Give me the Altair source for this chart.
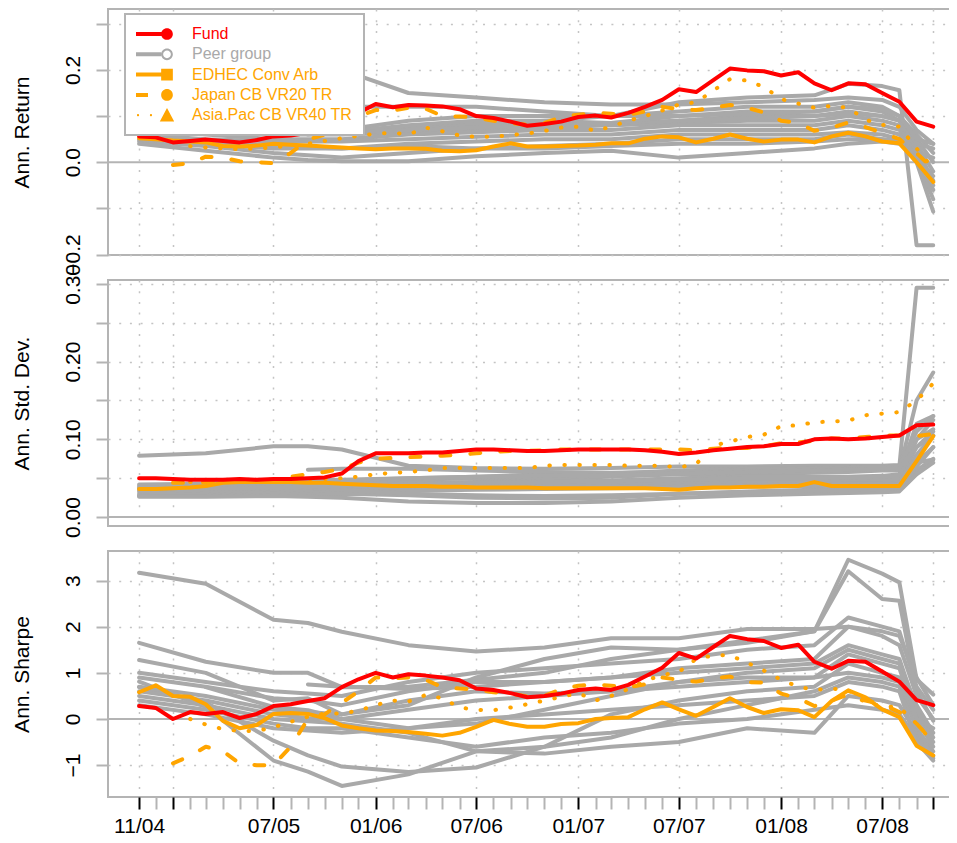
import json
import altair as alt
import pandas as pd

# ---------------- data ----------------
MONTHS = ["2004-11", "2004-12",
          "2005-01", "2005-02", "2005-03", "2005-04", "2005-05", "2005-06",
          "2005-07", "2005-08", "2005-09", "2005-10", "2005-11", "2005-12",
          "2006-01", "2006-02", "2006-03", "2006-04", "2006-05", "2006-06",
          "2006-07", "2006-08", "2006-09", "2006-10", "2006-11", "2006-12",
          "2007-01", "2007-02", "2007-03", "2007-04", "2007-05", "2007-06",
          "2007-07", "2007-08", "2007-09", "2007-10", "2007-11", "2007-12",
          "2008-01", "2008-02", "2008-03", "2008-04", "2008-05", "2008-06",
          "2008-07", "2008-08", "2008-09", "2008-10"]

SERIES = ["Fund", "Peer group", "EDHEC Conv Arb", "Japan CB VR20 TR", "Asia.Pac CB VR40 TR"]
SERIES_COLORS = ["#ff0000", "#a9a9a9", "#ffa500", "#ffa500", "#ffa500"]

MAJOR_TICKS = ["11/04", "01/05", "07/05", "01/06", "07/06", "01/07", "07/07", "01/08", "07/08", "10/08"]
TICK_LABELS = ["11/04", "07/05", "01/06", "07/06", "01/07", "07/07", "01/08", "07/08"]

# --- Annualised return ---
FUND_RET = [0.056, 0.054, 0.043, 0.046, 0.049, 0.046, 0.043, 0.048, 0.056, 0.058, 0.064, 0.072,
            0.095, 0.107, 0.126, 0.119, 0.124, 0.123, 0.121, 0.115, 0.100, 0.096, 0.088, 0.079,
            0.083, 0.088, 0.098, 0.101, 0.097, 0.107, 0.120, 0.135, 0.158, 0.152, 0.178, 0.203,
            0.199, 0.197, 0.188, 0.195, 0.171, 0.156, 0.171, 0.169, 0.150, 0.131, 0.088, 0.077]
EDHEC_RET = [0.052, 0.050, 0.047, 0.045, 0.043, 0.035, 0.034, 0.036, 0.040, 0.038, 0.036, 0.034,
             0.032, 0.030, 0.028, 0.030, 0.030, 0.029, 0.025, 0.024, 0.026, 0.034, 0.041, 0.034,
             0.034, 0.035, 0.036, 0.038, 0.041, 0.041, 0.051, 0.056, 0.054, 0.043, 0.051, 0.060,
             0.051, 0.045, 0.049, 0.049, 0.043, 0.056, 0.064, 0.056, 0.045, 0.041, 0.000, -0.043]
JAPAN_RET = [None, None, -0.006, -0.002, 0.012, 0.010, 0.002, 0.000, -0.002, 0.020, 0.049, 0.060,
             0.080, 0.100, 0.113, 0.112, 0.118, 0.116, 0.100, 0.099, 0.097, 0.090, 0.085, 0.081,
             0.085, 0.098, 0.103, 0.107, 0.105, 0.103, 0.110, 0.120, 0.115, 0.113, 0.118, 0.124,
             0.118, 0.108, 0.090, 0.085, 0.068, 0.075, 0.086, 0.076, 0.064, 0.050, 0.020, -0.015]
ASIA_RET = [None, None, None, 0.035, 0.032, 0.030, 0.028, 0.030, 0.032, 0.036, 0.040, 0.046,
            0.052, 0.057, 0.062, 0.064, 0.060, 0.075, 0.067, 0.058, 0.055, 0.055, 0.059, 0.062,
            0.068, 0.075, 0.077, 0.068, 0.077, 0.090, 0.100, 0.112, 0.125, 0.130, 0.155, 0.180,
            0.177, 0.163, 0.137, 0.127, 0.118, 0.122, 0.118, 0.092, 0.081, 0.077, 0.030, -0.015]

# --- Annualised standard deviation ---
FUND_SD = [0.050, 0.050, 0.049, 0.048, 0.048, 0.048, 0.049, 0.048, 0.049, 0.049, 0.050, 0.051,
           0.056, 0.072, 0.082, 0.082, 0.082, 0.083, 0.083, 0.085, 0.087, 0.087, 0.086, 0.085,
           0.085, 0.086, 0.087, 0.087, 0.087, 0.087, 0.086, 0.084, 0.081, 0.083, 0.086, 0.088,
           0.090, 0.091, 0.094, 0.094, 0.100, 0.101, 0.100, 0.101, 0.103, 0.105, 0.118, 0.119]
EDHEC_SD = [0.036, 0.036, 0.037, 0.038, 0.040, 0.044, 0.045, 0.045, 0.045, 0.045, 0.044, 0.044,
            0.043, 0.042, 0.041, 0.040, 0.040, 0.040, 0.039, 0.039, 0.038, 0.038, 0.038, 0.038,
            0.037, 0.037, 0.037, 0.037, 0.037, 0.037, 0.037, 0.036, 0.035, 0.037, 0.038, 0.038,
            0.039, 0.039, 0.040, 0.040, 0.045, 0.040, 0.040, 0.040, 0.040, 0.040, 0.072, 0.104]
JAPAN_SD = [None, None, 0.044, 0.044, 0.045, 0.046, 0.046, 0.047, 0.048, 0.052, 0.055, 0.058,
            0.062, 0.070, 0.075, 0.076, 0.077, 0.078, 0.079, 0.080, 0.082, 0.084, 0.085, 0.085,
            0.086, 0.087, 0.087, 0.087, 0.087, 0.087, 0.087, 0.087, 0.087, 0.086, 0.088, 0.089,
            0.089, 0.091, 0.095, 0.096, 0.098, 0.101, 0.101, 0.103, 0.105, 0.105, 0.104, 0.107]
ASIA_SD = [None, None, None, 0.045, 0.045, 0.046, 0.046, 0.047, 0.047, 0.048, 0.049, 0.049,
           0.050, 0.052, 0.055, 0.057, 0.058, 0.060, 0.063, 0.063, 0.063, 0.063, 0.063, 0.063,
           0.066, 0.067, 0.067, 0.067, 0.067, 0.066, 0.066, 0.066, 0.064, 0.068, 0.092, 0.097,
           0.103, 0.106, 0.117, 0.118, 0.122, 0.123, 0.124, 0.131, 0.133, 0.135, 0.150, 0.172]

# --- Annualised Sharpe ratio ---
FUND_SR = [0.28, 0.24, 0.00, 0.15, 0.11, 0.15, 0.02, 0.11, 0.28, 0.32, 0.39, 0.45,
           0.69, 0.86, 1.00, 0.90, 0.97, 0.94, 0.90, 0.84, 0.66, 0.63, 0.56, 0.47,
           0.50, 0.55, 0.63, 0.66, 0.63, 0.74, 0.92, 1.11, 1.43, 1.31, 1.56, 1.80,
           1.73, 1.69, 1.54, 1.61, 1.24, 1.09, 1.26, 1.24, 1.03, 0.81, 0.41, 0.30]
EDHEC_SR = [0.58, 0.73, 0.50, 0.48, 0.32, -0.04, -0.20, -0.13, 0.11, 0.13, 0.11, 0.02,
            -0.14, -0.20, -0.25, -0.26, -0.28, -0.32, -0.36, -0.30, -0.17, -0.02, -0.11, -0.17,
            -0.17, -0.11, -0.09, 0.00, 0.02, 0.04, 0.21, 0.36, 0.21, 0.07, 0.26, 0.45,
            0.26, 0.13, 0.21, 0.19, 0.04, 0.39, 0.62, 0.47, 0.21, 0.04, -0.58, -0.79]
JAPAN_SR = [None, None, -0.96, -0.80, -0.60, -0.70, -0.96, -1.00, -1.00, -0.60, 0.00, 0.10,
            0.35, 0.60, 0.90, 0.88, 0.90, 0.85, 0.69, 0.66, 0.64, 0.58, 0.55, 0.49,
            0.50, 0.65, 0.72, 0.75, 0.72, 0.69, 0.75, 0.90, 0.85, 0.81, 0.88, 0.92,
            0.80, 0.79, 0.55, 0.45, 0.28, 0.40, 0.53, 0.40, 0.32, 0.15, -0.10, -0.50]
ASIA_SR = [None, None, None, 0.00, -0.12, -0.22, -0.26, -0.26, -0.18, -0.06, 0.05, 0.12,
           0.12, 0.18, 0.30, 0.40, 0.38, 0.52, 0.45, 0.25, 0.20, 0.19, 0.25, 0.32,
           0.40, 0.48, 0.56, 0.40, 0.50, 0.65, 0.83, 0.95, 1.02, 1.30, 1.38, 1.38,
           1.22, 1.05, 0.85, 0.70, 0.63, 0.66, 0.62, 0.35, 0.28, 0.25, -0.10, -0.51]

# peer group funds, read at these month positions (index into MONTHS)
PEER_MONTH_IDX = [0, 4, 8, 10, 12, 16, 20, 24, 28, 32, 36, 40, 42, 44, 45, 46, 47]

PEERS_RET = {
    "Peer 1": [0.27, 0.25, 0.22, 0.21, 0.20, 0.15, 0.14, 0.13, 0.125, 0.125, 0.13, 0.135, 0.14, 0.135, 0.12, 0.07, 0.04],
    "Peer 2": [0.12, 0.10, 0.09, 0.08, 0.07, 0.07, 0.08, 0.09, 0.10, 0.13, 0.14, 0.145, 0.17, 0.165, 0.156, -0.18, -0.18],
    "Peer 3": [0.20, 0.17, 0.14, 0.13, 0.12, 0.12, 0.12, 0.11, 0.10, 0.11, 0.12, 0.12, 0.13, 0.12, 0.10, 0.06, 0.02],
    "Peer 4": [0.16, 0.12, 0.09, 0.08, 0.07, 0.09, 0.10, 0.10, 0.10, 0.10, 0.11, 0.11, 0.12, 0.11, 0.09, 0.05, 0.00],
    "Peer 5": [0.10, 0.08, 0.07, 0.068, 0.065, 0.075, 0.085, 0.085, 0.08, 0.09, 0.10, 0.10, 0.11, 0.10, 0.09, 0.04, -0.02],
    "Peer 6": [0.08, 0.07, 0.06, 0.06, 0.06, 0.065, 0.07, 0.075, 0.08, 0.085, 0.09, 0.09, 0.10, 0.09, 0.08, 0.03, -0.04],
    "Peer 7": [0.07, 0.06, 0.05, 0.05, 0.05, 0.06, 0.065, 0.07, 0.07, 0.08, 0.08, 0.08, 0.09, 0.08, 0.07, 0.02, -0.06],
    "Peer 8": [0.06, 0.05, 0.045, 0.045, 0.045, 0.05, 0.055, 0.06, 0.06, 0.07, 0.07, 0.07, 0.08, 0.07, 0.06, 0.01, -0.08],
    "Peer 9": [0.05, 0.045, 0.035, 0.032, 0.03, 0.04, 0.045, 0.05, 0.05, 0.06, 0.06, 0.06, 0.065, 0.06, 0.05, 0.00, -0.107],
    "Peer 10": [0.045, 0.035, 0.02, 0.015, 0.01, 0.02, 0.03, 0.035, 0.04, 0.05, 0.05, 0.05, 0.06, 0.05, 0.045, 0.01, -0.03],
    "Peer 11": [0.04, 0.025, 0.01, 0.005, 0.002, 0.002, 0.013, 0.02, 0.025, 0.01, 0.02, 0.03, 0.04, 0.045, 0.04, 0.02, 0.01],
    "Peer 12": [0.05, 0.04, 0.03, 0.03, 0.03, 0.035, 0.03, 0.03, 0.035, 0.04, 0.04, 0.045, 0.05, 0.05, 0.045, 0.00, -0.05],
    "Peer 13": [None, None, None, 0.06, 0.065, 0.08, 0.09, 0.09, 0.085, 0.09, 0.095, 0.10, 0.105, 0.10, 0.09, 0.04, 0.03],
    "Peer 14": [None, 0.09, 0.075, 0.07, 0.065, 0.07, 0.075, 0.08, 0.085, 0.10, 0.105, 0.11, 0.12, 0.115, 0.10, 0.05, 0.04],
}
PEERS_SD = {
    "Peer 1": [0.079, 0.082, 0.091, 0.091, 0.087, 0.066, 0.063, 0.062, 0.063, 0.065, 0.065, 0.066, 0.066, 0.066, 0.067, 0.070, 0.074],
    "Peer 2": [0.042, 0.043, 0.045, 0.046, 0.047, 0.050, 0.052, 0.055, 0.056, 0.060, 0.062, 0.062, 0.063, 0.064, 0.065, 0.295, 0.295],
    "Peer 3": [0.040, 0.041, 0.043, 0.044, 0.045, 0.048, 0.050, 0.050, 0.052, 0.055, 0.055, 0.057, 0.058, 0.060, 0.060, 0.150, 0.186],
    "Peer 4": [0.037, 0.038, 0.040, 0.041, 0.042, 0.044, 0.045, 0.046, 0.047, 0.050, 0.052, 0.052, 0.052, 0.053, 0.055, 0.120, 0.130],
    "Peer 5": [0.035, 0.036, 0.037, 0.038, 0.039, 0.041, 0.042, 0.043, 0.044, 0.046, 0.047, 0.048, 0.049, 0.050, 0.050, 0.100, 0.125],
    "Peer 6": [0.033, 0.034, 0.035, 0.035, 0.036, 0.038, 0.040, 0.041, 0.042, 0.043, 0.044, 0.045, 0.046, 0.047, 0.048, 0.090, 0.110],
    "Peer 7": [0.030, 0.031, 0.032, 0.033, 0.034, 0.036, 0.037, 0.038, 0.039, 0.040, 0.041, 0.042, 0.043, 0.043, 0.044, 0.080, 0.105],
    "Peer 8": [0.028, 0.029, 0.030, 0.031, 0.032, 0.034, 0.035, 0.036, 0.037, 0.038, 0.039, 0.040, 0.040, 0.041, 0.042, 0.070, 0.090],
    "Peer 9": [0.027, 0.027, 0.028, 0.029, 0.030, 0.028, 0.025, 0.024, 0.025, 0.030, 0.033, 0.035, 0.036, 0.037, 0.038, 0.060, 0.075],
    "Peer 10": [0.026, 0.026, 0.027, 0.026, 0.025, 0.020, 0.018, 0.018, 0.020, 0.025, 0.028, 0.030, 0.031, 0.032, 0.033, 0.055, 0.070],
    "Peer 11": [0.038, 0.039, 0.040, 0.038, 0.035, 0.030, 0.028, 0.027, 0.028, 0.030, 0.032, 0.034, 0.035, 0.036, 0.037, 0.065, 0.090],
    "Peer 12": [0.036, 0.036, 0.038, 0.039, 0.040, 0.042, 0.044, 0.045, 0.046, 0.048, 0.050, 0.050, 0.051, 0.052, 0.053, 0.100, 0.113],
    "Peer 13": [None, None, None, 0.061, 0.062, 0.062, 0.060, 0.058, 0.057, 0.058, 0.060, 0.062, 0.063, 0.064, 0.065, 0.110, 0.130],
    "Peer 14": [None, 0.045, 0.046, 0.047, 0.048, 0.050, 0.052, 0.053, 0.054, 0.056, 0.058, 0.060, 0.061, 0.062, 0.063, 0.090, 0.105],
}
PEERS_SR = {
    "Peer 1": [3.17, 2.93, 2.15, 2.08, 1.89, 1.60, 1.46, 1.55, 1.75, 1.75, 1.95, 1.95, 2.00, 1.90, 1.80, 0.90, 0.30],
    "Peer 2": [1.65, 1.24, 1.00, 1.00, 0.69, 0.70, 0.85, 1.00, 1.30, 1.50, 1.70, 1.90, 3.45, 3.15, 2.96, 0.86, 0.53],
    "Peer 3": [1.28, 1.00, 0.40, 0.45, 0.10, 0.30, 0.90, 1.30, 1.55, 1.50, 1.65, 1.90, 3.20, 2.60, 2.56, 0.60, -0.04],
    "Peer 4": [0.81, 0.26, -0.90, -1.14, -1.45, -1.20, -0.70, -0.60, -0.40, 0.00, 0.30, 0.60, 0.90, 0.80, 0.70, -0.20, -0.70],
    "Peer 5": [0.69, 0.36, -0.47, -0.79, -1.03, -1.15, -1.05, -0.60, 0.10, 0.40, 0.60, 0.70, 1.20, 1.00, 0.90, 0.10, -0.50],
    "Peer 6": [None, 0.69, 0.26, 0.19, 0.00, -0.20, -0.10, 0.20, 0.50, 0.80, 1.00, 1.10, 1.50, 1.30, 1.20, 0.30, -0.30],
    "Peer 7": [0.60, 0.40, 0.10, 0.02, 0.00, 0.20, 0.40, 0.50, 0.60, 0.80, 0.90, 0.90, 1.00, 0.90, 0.80, 0.00, -0.60],
    "Peer 8": [None, None, None, 0.75, 0.70, 0.65, 0.70, 0.80, 0.90, 1.00, 1.10, 1.20, 1.60, 1.40, 1.30, 0.20, -0.40],
    "Peer 9": [0.50, 0.30, 0.00, -0.05, -0.10, -0.30, -0.70, -0.75, -0.60, -0.50, -0.20, -0.30, 0.50, 0.40, 0.30, -0.30, -0.80],
    "Peer 10": [0.40, 0.20, -0.10, -0.20, -0.20, -0.40, -0.60, -0.40, -0.30, -0.10, 0.00, 0.20, 0.30, 0.20, 0.10, -0.40, -0.85],
    "Peer 11": [0.90, 0.70, 0.45, 0.40, 0.30, 0.60, 0.80, 0.80, 0.90, 1.10, 1.20, 1.30, 2.00, 1.80, 1.60, 0.50, 0.00],
    "Peer 12": [0.70, 0.50, 0.20, 0.15, 0.10, 0.40, 0.60, 0.55, 0.60, 0.70, 0.80, 0.90, 1.40, 1.20, 1.10, 0.00, -0.20],
    "Peer 13": [0.30, 0.10, -0.20, -0.25, -0.30, -0.20, 0.00, 0.10, 0.20, 0.30, 0.40, 0.50, 0.80, 0.70, 0.60, -0.50, -0.90],
    "Peer 14": [1.00, 0.80, 0.60, 0.55, 0.50, 0.80, 1.00, 1.10, 1.20, 1.30, 1.50, 1.60, 2.20, 2.00, 1.90, 0.70, 0.20],
}

# ---------------- styling ----------------
FONT = "Liberation Sans"
FRAME = "#b4b4b4"
GRID = "#c4c4c4"
W, H = 858, 246
LW = 4
COLOR_OF = dict(zip(SERIES, SERIES_COLORS))

# legend symbols: line segment + marker, as SVG paths (marker at the origin)
LINE = "M-3.444,-0.222L0,-0.222L0,0.222L-3.444,0.222Z"
CIRCLE = "M0.65,0A0.65,0.65 0 1,1 -0.65,0A0.65,0.65 0 1,1 0.65,0Z"
HOLE = "M0.43,0A0.43,0.43 0 1,0 -0.43,0A0.43,0.43 0 1,0 0.43,0Z"
SYMBOL_PATHS = [
    LINE + CIRCLE,
    "M-3.444,-0.222L-0.65,-0.222L-0.65,0.222L-3.444,0.222Z" + CIRCLE + HOLE,
    LINE + "M-0.65,-0.65L0.65,-0.65L0.65,0.65L-0.65,0.65Z",
    "M-3.444,-0.222L-2.111,-0.222L-2.111,0.222L-3.444,0.222Z" + CIRCLE,
    "M-3.1,0A0.12,0.12 0 1,1 -3.34,0A0.12,0.12 0 1,1 -3.1,0Z"
    "M-1.66,0A0.12,0.12 0 1,1 -1.9,0A0.12,0.12 0 1,1 -1.66,0Z"
    "M0,-0.8L0.8,0.7L-0.8,0.7Z",
]


def dt(ym, day=1):
    return alt.DateTime(year=int(ym[:4]), month=int(ym[5:7]), date=day, utc=True)


def short(ym):
    return ym[5:7] + "/" + ym[2:4]


ALL_DT = [dt(m) for m in MONTHS]
MAJOR_DT = [dt(m) for m in MONTHS if short(m) in MAJOR_TICKS]
X_DOMAIN = [alt.DateTime(year=2004, month=9, date=6, utc=True),
            alt.DateTime(year=2008, month=11, date=29, utc=True)]


def main_frame(name, vals):
    rows = [{"date": ym + "-01", "value": v, "series": name, "line": name}
            for ym, v in zip(MONTHS, vals) if v is not None]
    return pd.DataFrame(rows)


def peer_frame(peers):
    rows = []
    for pname, vals in peers.items():
        for idx, v in zip(PEER_MONTH_IDX, vals):
            if v is not None:
                rows.append({"date": MONTHS[idx] + "-01", "value": v,
                             "series": "Peer group", "line": pname})
    return pd.DataFrame(rows)


MAJOR_TEST = "indexof(%s, utcFormat(datum.value, '%%m/%%y')) >= 0" % json.dumps(MAJOR_TICKS)
LABEL_EXPR = ("indexof(%s, utcFormat(datum.value, '%%m/%%y')) >= 0 ? utcFormat(datum.value, '%%m/%%y') : ''"
              % json.dumps(TICK_LABELS))


def panel(title, fund, edhec, japan, asia, peers, y_domain, y_values, y_label_expr,
          bottom=False, legend=False):
    if bottom:
        x_axis = alt.Axis(values=ALL_DT, title=None, domain=False, grid=True,
                          gridColor={"condition": {"test": MAJOR_TEST, "value": GRID},
                                     "value": "transparent"},
                          gridDash=[2, 8.7], gridWidth=1.5,
                          ticks=True, tickSize=12, tickWidth=2,
                          tickColor={"condition": {"test": MAJOR_TEST, "value": "#000000"},
                                     "value": FRAME},
                          labelExpr=LABEL_EXPR, labelFont=FONT, labelFontSize=21,
                          labelColor="#000000", labelPadding=6, labelAngle=0,
                          labelBaseline="top", labelAlign="center", labelOverlap=False,
                          labelFlush=False, labelBound=False)
    else:
        x_axis = alt.Axis(values=MAJOR_DT, title=None, domain=False, grid=True,
                          gridColor=GRID, gridDash=[2, 8.7], gridWidth=1.5,
                          ticks=False, labels=False)

    y_axis = alt.Axis(values=y_values, title=title, domain=False, grid=True,
                      gridColor={"condition": {"test": "datum.value == 0", "value": "transparent"},
                                 "value": GRID},
                      gridDash=[2, 8.7], gridWidth=1.5,
                      ticks=True, tickSize=12, tickWidth=2, tickColor=FRAME,
                      labelExpr=y_label_expr, labelFont=FONT, labelFontSize=21,
                      labelColor="#000000", labelAngle=270, labelAlign="center",
                      labelBaseline="alphabetic", labelPadding=17, labelOverlap=False,
                      labelFlush=False, labelBound=False,
                      titleFont=FONT, titleFontSize=21, titleFontWeight="normal",
                      titleColor="#000000", titleAngle=270, titleAlign="center",
                      titleBaseline="alphabetic", titleX=-80, titleY=H / 2)

    X = alt.X("date:T", scale=alt.Scale(type="utc", domain=X_DOMAIN), axis=x_axis)
    Y = alt.Y("value:Q", scale=alt.Scale(domain=y_domain, nice=False, zero=False), axis=y_axis)

    zero = alt.Chart(pd.DataFrame({"value": [0.0]})).mark_rule(
        color=FRAME, strokeWidth=2).encode(y=Y)

    def line(df, name, **kw):
        return alt.Chart(df).mark_line(strokeWidth=LW, strokeJoin="round",
                                       color=COLOR_OF[name], **kw).encode(
            x=X, y=Y, detail="line:N")

    layers = [
        zero,
        line(peer_frame(peers), "Peer group", strokeCap="round"),
        line(main_frame("Asia.Pac CB VR40 TR", asia), "Asia.Pac CB VR40 TR",
             strokeCap="round", strokeDash=[0.5, 14.5]),
        line(main_frame("Japan CB VR20 TR", japan), "Japan CB VR20 TR",
             strokeCap="round", strokeDash=[10, 20]),
        line(main_frame("EDHEC Conv Arb", edhec), "EDHEC Conv Arb", strokeCap="round"),
        line(main_frame("Fund", fund), "Fund", strokeCap="round"),
    ]

    if legend:
        leg = alt.Legend(
            title=None, orient="none", legendX=17, legendY=5, direction="vertical",
            symbolSize=324, symbolStrokeWidth=0, symbolOffset=22, labelOffset=16,
            labelFont=FONT, labelFontSize=16, labelLimit=400, rowPadding=3.3, padding=11,
            strokeColor=FRAME, fillColor="#ffffff", symbolOpacity=1,
            labelColor=alt.ExprRef(expr="datum.value == 'Fund' ? '#ff0000' : "
                                        "(datum.value == 'Peer group' ? '#a9a9a9' : '#ffa500')"))
        legend_layer = alt.Chart(pd.DataFrame({"series": SERIES})).transform_filter(
            "false").mark_point(filled=True, opacity=1).encode(
            fill=alt.Fill("series:N", scale=alt.Scale(domain=SERIES, range=SERIES_COLORS),
                          legend=leg),
            shape=alt.Shape("series:N", scale=alt.Scale(domain=SERIES, range=SYMBOL_PATHS),
                            legend=leg))
        layers.append(legend_layer)

    return alt.layer(*layers).properties(width=W, height=H)


p1 = panel("Ann. Return", FUND_RET, EDHEC_RET, JAPAN_RET, ASIA_RET, PEERS_RET,
           [-0.201, 0.332], [-0.2, -0.1, 0.0, 0.1, 0.2, 0.3],
           "abs(round(datum.value * 10)) % 2 == 0 ? format(datum.value, '.1f') : ''",
           legend=True)
p2 = panel("Ann. Std. Dev.", FUND_SD, EDHEC_SD, JAPAN_SD, ASIA_SD, PEERS_SD,
           [-0.0115, 0.305], [0.0, 0.05, 0.10, 0.15, 0.20, 0.25, 0.30],
           "round(datum.value * 100) % 10 == 0 ? format(datum.value, '.2f') : ''")
p3 = panel("Ann. Sharpe", FUND_SR, EDHEC_SR, JAPAN_SR, ASIA_SR, PEERS_SR,
           [-1.69, 3.64], [-1, 0, 1, 2, 3],
           "format(datum.value, 'd')", bottom=True)

chart = alt.vconcat(p1, p2, p3, spacing=25, bounds="flush").resolve_scale(
    fill="independent", shape="independent", x="independent", y="independent"
).properties(
    padding={"left": 2, "top": 0, "right": -19, "bottom": 0},
    background="#ffffff",
).configure_view(stroke=FRAME, strokeWidth=2).configure_legend(strokeWidth=2)

chart.save("out.html", embed_options={"renderer": "svg", "actions": False})
